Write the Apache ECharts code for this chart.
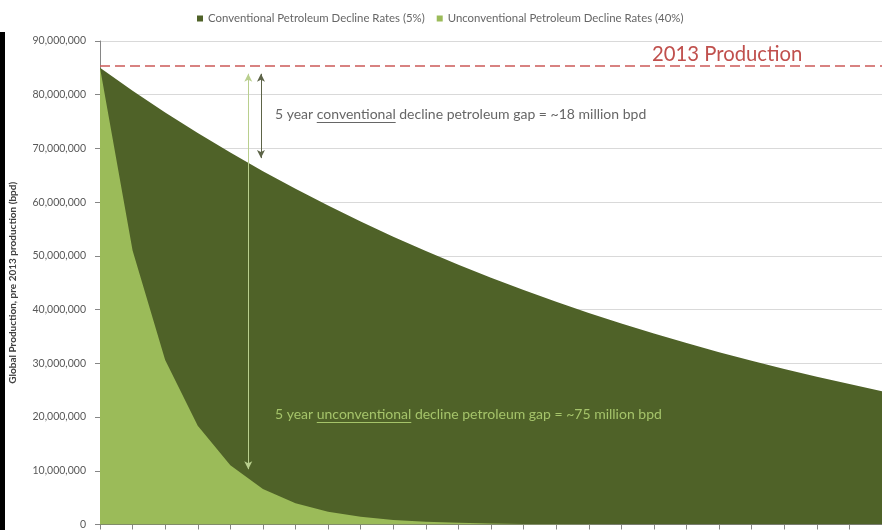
<!DOCTYPE html>
<html>
<head>
<meta charset="utf-8">
<script src="https://cdn.jsdelivr.net/npm/echarts@6/dist/echarts.min.js"></script>
<style>
  html, body { margin: 0; padding: 0; background: #ffffff; }
  #chart { width: 882px; height: 530px; }
</style>
</head>
<body>
<div id="chart"></div>
<script>
// Years after 2013
const years = [0, 1, 2, 3, 4, 5, 6, 7, 8, 9, 10, 11, 12, 13, 14, 15, 16, 17, 18, 19, 20, 21, 22, 23, 24];

// Global production (bpd) under a 5% yearly decline
const conventional = [
  85000000, 80750000, 76710000, 72880000, 69230000, 65770000, 62480000, 59360000,
  56390000, 53570000, 50890000, 48350000, 45930000, 43640000, 41450000, 39380000,
  37410000, 35540000, 33770000, 32080000, 30470000, 28950000, 27500000, 26130000, 24820000
];

// Global production (bpd) under a 40% yearly decline
const unconventional = [
  85000000, 51000000, 30600000, 18360000, 11020000, 6610000, 3970000, 2380000,
  1430000, 860000, 510000, 310000, 190000, 110000, 70000, 40000,
  20000, 10000, 10000, 0, 0, 0, 0, 0, 0
];

const seriesNames = ['Conventional Petroleum Decline Rates (5%)', 'Unconventional Petroleum Decline Rates (40%)'];
const production2013 = 85400000;

// Gap annotations: [year, from, to]
const convGap = [4.94, 83900000, 68200000];
const unconvGap = [4.55, 83900000, 10300000];

const axisMin = 0, axisMax = 90000000, axisStep = 10000000;

const FONT = 'Lato, "Open Sans", sans-serif';
const DARK = '#4F6228';
const LIGHT = '#9BBB59';

const chart = echarts.init(document.getElementById('chart'), null, { renderer: 'canvas' });

const measureCtx = document.createElement('canvas').getContext('2d');
function textWidth(str, size, weight) {
  measureCtx.font = (weight || 'normal') + ' ' + size + 'px ' + FONT;
  return measureCtx.measureText(str).width;
}

// Text with one underlined word, built as a graphic group
function underlinedNote(x, y, pre, word, post, size, color) {
  const w1 = textWidth(pre, size);
  const w2 = textWidth(word, size);
  return {
    type: 'group',
    left: x,
    top: y,
    z: 100,
    children: [
      {
        type: 'text',
        x: 0, y: 0,
        z: 100,
        style: { text: pre + word + post, font: size + 'px ' + FONT, fill: color, verticalAlign: 'top' }
      },
      {
        type: 'line',
        z: 100,
        shape: { x1: w1, y1: size + 1.5, x2: w1 + w2, y2: size + 1.5 },
        style: { stroke: color, lineWidth: 1 }
      }
    ]
  };
}

const pairs = arr => years.map((y, i) => [y, arr[i]]);

const option = {
  animation: false,
  backgroundColor: '#ffffff',
  textStyle: { fontFamily: FONT },
  legend: {
    left: 192,
    top: 8,
    icon: 'rect',
    itemWidth: 6,
    itemHeight: 6,
    itemGap: 12,
    textStyle: { fontSize: 11.4, color: '#666666', fontFamily: FONT },
    data: seriesNames
  },
  grid: { left: 96, top: 41, width: 790, height: 486, containLabel: false },
  xAxis: {
    type: 'value',
    min: 0,
    max: 24,
    interval: 1,
    axisLine: { show: true, lineStyle: { color: '#868686', width: 1 } },
    axisTick: { show: true, inside: false, length: 5, lineStyle: { color: '#868686' } },
    axisLabel: { show: false },
    splitLine: { show: false }
  },
  yAxis: {
    type: 'value',
    min: axisMin,
    max: axisMax,
    interval: axisStep,
    name: 'Global Production, pre 2013 production (bpd)',
    nameLocation: 'middle',
    nameGap: 82,
    nameTextStyle: { fontSize: 10, fontWeight: 'bold', color: '#404040', fontFamily: FONT },
    axisLine: { show: true, lineStyle: { color: '#868686', width: 1 } },
    axisTick: { show: true, inside: false, length: 5, lineStyle: { color: '#868686' } },
    axisLabel: {
      margin: 14,
      fontSize: 10.5,
      color: '#595959',
      fontFamily: FONT,
      formatter: v => v.toLocaleString('en-US')
    },
    splitLine: { show: true, lineStyle: { color: '#D9D9D9', width: 1 } }
  },
  series: [
    {
      name: seriesNames[0],
      type: 'line',
      data: pairs(conventional),
      symbol: 'none',
      color: DARK,
      lineStyle: { width: 0 },
      areaStyle: { color: DARK, opacity: 1 },
      z: 2,
      markLine: {
        silent: true,
        symbol: 'none',
        label: { show: false },
        lineStyle: { color: '#CC5A58', width: 1.5, type: [10, 5] },
        data: [{ yAxis: production2013 }]
      }
    },
    {
      name: seriesNames[1],
      type: 'line',
      data: pairs(unconventional),
      symbol: 'none',
      color: LIGHT,
      lineStyle: { width: 0 },
      areaStyle: { color: LIGHT, opacity: 1 },
      z: 3,
      markLine: {
        silent: true,
        symbol: ['arrow', 'arrow'],
        symbolSize: [6, 8],
        label: { show: false },
        data: [
          [
            { coord: [unconvGap[0], unconvGap[1]], lineStyle: { color: '#B9CF8E', width: 1, type: 'solid' } },
            { coord: [unconvGap[0], unconvGap[2]] }
          ],
          [
            { coord: [convGap[0], convGap[1]], lineStyle: { color: '#5D6448', width: 1, type: 'solid' } },
            { coord: [convGap[0], convGap[2]] }
          ]
        ]
      }
    }
  ],
  graphic: [
    {
      type: 'rect',
      left: 0,
      top: 32,
      z: 100,
      shape: { width: 5, height: 498 },
      style: { fill: '#000000' }
    },
    {
      type: 'text',
      left: 652,
      top: 44,
      z: 100,
      style: { text: '2013 Production', font: '20.3px ' + FONT, fill: '#C0504D' }
    },
    underlinedNote(275, 107, '5 year ', 'conventional', ' decline petroleum gap = ~18 million bpd', 14, '#666666'),
    underlinedNote(275, 407, '5 year ', 'unconventional', ' decline petroleum gap = ~75 million bpd', 14, '#A5C46A')
  ]
};

chart.setOption(option);
</script>
</body>
</html>
